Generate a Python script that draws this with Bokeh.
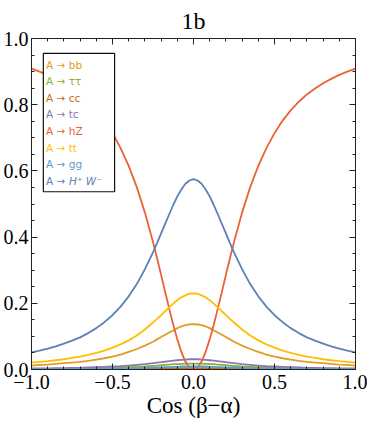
from bokeh.plotting import figure
from bokeh.models import (LinearAxis, FixedTicker, CustomJSTickFormatter, Range1d,
                          BoxAnnotation, Label)
from bokeh.embed import file_html
from bokeh.resources import INLINE

# cos(beta-alpha) from 0 to 1 (curves are symmetric about 0)
c_half = [0.0, 0.025, 0.05, 0.075, 0.1, 0.125, 0.15, 0.175, 0.2, 0.225, 0.25, 0.3,
          0.35, 0.4, 0.45, 0.5, 0.55, 0.6, 0.65, 0.7, 0.75, 0.8, 0.85, 0.9, 0.95, 1.0]

br_hZ = [0.0, 0.006, 0.024, 0.053, 0.091, 0.135, 0.184, 0.234, 0.286, 0.336, 0.385, 0.474,
         0.551, 0.615, 0.669, 0.714, 0.752, 0.783, 0.809, 0.831, 0.849, 0.865, 0.878,
         0.890, 0.900, 0.909]
br_HW = [0.575, 0.571, 0.561, 0.544, 0.523, 0.497, 0.469, 0.440, 0.411, 0.382, 0.354, 0.303,
         0.258, 0.221, 0.190, 0.164, 0.143, 0.125, 0.110, 0.097, 0.087, 0.078, 0.070,
         0.063, 0.057, 0.052]
br_tt = [0.230, 0.229, 0.224, 0.218, 0.209, 0.199, 0.188, 0.176, 0.164, 0.153, 0.142, 0.121,
         0.103, 0.088, 0.076, 0.066, 0.057, 0.050, 0.044, 0.039, 0.035, 0.031, 0.028,
         0.025, 0.023, 0.021]
br_bb = [0.137, 0.136, 0.134, 0.130, 0.125, 0.118, 0.112, 0.105, 0.098, 0.091, 0.084, 0.072,
         0.062, 0.053, 0.045, 0.039, 0.034, 0.030, 0.026, 0.023, 0.021, 0.019, 0.017,
         0.015, 0.014, 0.012]
br_tc = [0.031, 0.031, 0.030, 0.029, 0.028, 0.027, 0.025, 0.024, 0.022, 0.021, 0.019, 0.016,
         0.014, 0.012, 0.010, 0.009, 0.008, 0.007, 0.006, 0.005, 0.005, 0.004, 0.004,
         0.003, 0.003, 0.003]
br_tautau = [0.018, 0.018, 0.018, 0.017, 0.016, 0.016, 0.015, 0.014, 0.013, 0.012, 0.011,
             0.009, 0.008, 0.007, 0.006, 0.005, 0.004, 0.004, 0.003, 0.003, 0.003, 0.002,
             0.002, 0.002, 0.002, 0.002]
br_gg = [0.009, 0.009, 0.009, 0.009, 0.008, 0.008, 0.007, 0.007, 0.006, 0.006, 0.006, 0.005,
         0.004, 0.003, 0.003, 0.003, 0.002, 0.002, 0.002, 0.002, 0.001, 0.001, 0.001,
         0.001, 0.001, 0.001]
br_cc = [0.004, 0.004, 0.004, 0.004, 0.004, 0.003, 0.003, 0.003, 0.003, 0.003, 0.002, 0.002,
         0.002, 0.002, 0.001, 0.001, 0.001, 0.001, 0.001, 0.001, 0.001, 0.001, 0.001,
         0.001, 0.001, 0.001]

labels = ["A \u2192 bb", "A \u2192 \u03c4\u03c4", "A \u2192 cc", "A \u2192 tc",
          "A \u2192 hZ", "A \u2192 tt", "A \u2192 gg", "A \u2192 "]
series = [br_bb, br_tautau, br_cc, br_tc, br_hZ, br_tt, br_gg, br_HW]
colors = ["#E19C24", "#8FB032", "#C56E1A", "#8778B3", "#EB6235", "#FFBF00",
          "#5D9EC7", "#5E81B5"]

x_ticks = [-1.0, -0.5, 0.0, 0.5, 1.0]
y_ticks = [0.0, 0.2, 0.4, 0.6, 0.8, 1.0]


def mirror(v):
    return list(v[::-1]) + list(v[1:])


xs = [-c for c in c_half[::-1]] + c_half[1:]

p = figure(frame_width=324, frame_height=331, output_backend="svg", toolbar_location=None,
           x_range=Range1d(-1, 1), y_range=Range1d(0, 1),
           min_border_left=22, min_border_right=12, min_border_top=32,
           min_border_bottom=49)
p.grid.visible = False
p.outline_line_color = "#222222"
p.outline_line_width = 1
p.background_fill_color = "white"
p.border_fill_color = "white"

p.title.text = "1b"
p.title.align = "center"
p.title.text_font = "Liberation Serif"
p.title.text_font_size = "24px"
p.title.text_font_style = "normal"
p.title.text_color = "black"

xt = FixedTicker(ticks=x_ticks, minor_ticks=[round(-1 + 0.1 * i, 2) for i in range(21)])
yt = FixedTicker(ticks=y_ticks, minor_ticks=[round(0.05 * i, 2) for i in range(21)])
fmt = CustomJSTickFormatter(code='return (tick < -1e-9 ? "\\u2212" : "") + Math.abs(tick).toFixed(1);')
blank = CustomJSTickFormatter(code='return "";')


def style_axis(ax, ticker, formatter, show):
    ax.ticker = ticker
    ax.formatter = formatter
    ax.major_tick_in = 6
    ax.major_tick_out = 0
    ax.minor_tick_in = 3
    ax.minor_tick_out = 0
    ax.axis_line_color = "#222222"
    ax.major_tick_line_color = "#222222"
    ax.minor_tick_line_color = "#222222"
    ax.major_label_text_font = "Liberation Serif"
    ax.major_label_text_font_size = "20px" if show else "0px"
    ax.major_label_text_color = "black"


style_axis(p.xaxis[0], xt, fmt, True)
style_axis(p.yaxis[0], yt, fmt, True)
p.xaxis[0].major_label_standoff = 5
p.yaxis[0].major_label_standoff = 3
p.xaxis[0].axis_label = "Cos (\u03b2\u2212\u03b1)"
p.xaxis[0].axis_label_text_font = "Liberation Serif"
p.xaxis[0].axis_label_text_font_size = "23px"
p.xaxis[0].axis_label_text_font_style = "normal"
p.xaxis[0].axis_label_text_color = "black"
p.xaxis[0].axis_label_standoff = 1

top_ax = LinearAxis()
right_ax = LinearAxis()
style_axis(top_ax, xt, blank, False)
style_axis(right_ax, yt, blank, False)
top_ax.major_label_standoff = 0
right_ax.major_label_standoff = 0
p.add_layout(top_ax, "above")
p.add_layout(right_ax, "right")

for ys, col in zip(series, colors):
    p.line(xs, mirror(ys), line_color=col, line_width=1.8)

# legend box
box = BoxAnnotation(left=-0.927, right=-0.487, bottom=0.537, top=0.955,
                    fill_color="white", fill_alpha=1.0, line_color="#111111",
                    line_alpha=1.0, line_width=1.2, level="annotation")
p.add_layout(box)
y0 = 0.921
dy = 0.0502
for i, (lab, col) in enumerate(zip(labels, colors)):
    p.add_layout(Label(x=-0.91, y=y0 - i * dy, text=lab, text_color=col,
                       text_font="DejaVu Sans", text_font_size="10.5px",
                       text_baseline="middle", text_align="left"))
p.add_layout(Label(x=-0.91, y=y0 - 7 * dy, x_offset=23, text="H\u207a W\u207b",
                   text_color=colors[7], text_font="DejaVu Sans",
                   text_font_size="10.5px", text_font_style="italic",
                   text_baseline="middle", text_align="left"))

open("out.html", "w").write(file_html(p, INLINE))
